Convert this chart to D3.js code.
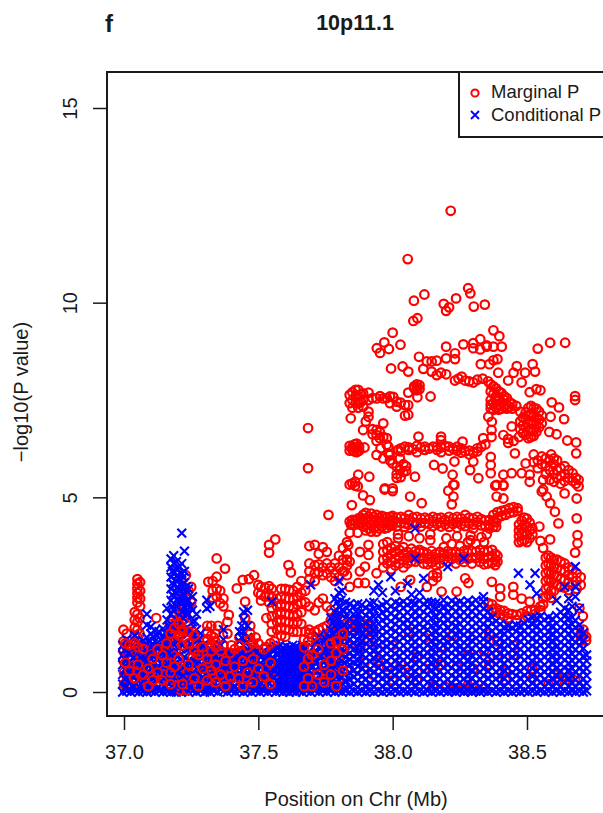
<!DOCTYPE html>
<html>
<head>
<meta charset="utf-8">
<script src="https://cdn.jsdelivr.net/npm/d3@7"></script>
<style>
  html, body { margin: 0; padding: 0; background: #fff; overflow: hidden; }
  text { font-family: "Liberation Sans", Arial, sans-serif; fill: #1a1a1a; }
</style>
</head>
<body>
<svg id="chart" width="603" height="813"></svg>
<script>
// every row is [position in Mb, -log10P, -log10P, ...]
var marginalSparse = [
  [37.685,6.78,5.75],[37.761,4.55],[37.848,4.8],[38.216,12.36],[38.056,11.12],[38.118,10.21],[38.079,10.05],
  [38.236,10.11],[38.281,10.37],[38.289,10.24],[38.19,9.97],[38.21,9.88],[38.199,9.79,8.87,8.57],[38.302,9.9],
  [38.343,9.95],[38.092,9.6],[38.077,9.53],[38.375,9.29,8.87,8.52],[38,9.23],[37.969,8.98],[37.941,8.83],
  [37.953,8.71],[37.986,8.81],[38.029,8.92],[38.397,9.14],[38.326,9.06,8.8],[38.3,8.96,8.83],[38.263,8.93],
  [38.586,8.97],[38.642,8.97],[38.54,8.82],[38.406,8.87],[38.35,8.87,8.9],[37.994,8.31],[38.037,8.36],[38.058,8.23],
  [38.098,8.61],[38.114,8.3],[38.127,8.49],[38.145,8.49,8.23],[38.164,8.51,8.14],[38.18,8.2],[38.199,8.16],
  [38.232,8.7,8.55],[38.328,8.42],[38.36,8.42],[38.39,8.55],[38.393,8.2],[38.462,8.37],[38.521,8.42],[38.45,8.2],
  [38.493,8.2],[38.53,8.23],[38.43,8.0],[38.48,7.95],[38.51,7.7],[38.535,7.78],[38.55,7.75],[38.592,7.44],[38.619,7.31],
  [38.588,7.07],[38.638,7.01],[38.583,6.68],[38.61,6.62],[38.65,6.46],[38.683,6.41,6.13],[38.679,7.6,7.5],[38.455,6.13],
  [37.844,7.03],[38.058,7.69],[38.092,7.57],[38.141,7.59],[38.096,6.56],[38.18,6.56,6.47],[38.26,6.43],[38.337,6.52],
  [38.368,6.73,6.55],[38.412,6.6],[38.443,6.82],[38.356,7.07],[38.369,6.94],[38.154,5.83],[38.186,5.74],[38.223,5.58],
  [38.23,5.32,5.92],[38.288,5.7],[38.319,5.49],[38.3,5.92],[38.365,6.04,5.83,5.62],[38.382,5.3],[38.412,5.3,5.58],
  [38.443,5.62],[38.48,5.62],[38.495,5.87],[38.51,5.58,5.4],[37.971,5.23],[38,5.23],[37.913,5.53],[37.872,5.58],
  [37.97,5.2],[38,5.16],[38.065,5.02],[38.108,4.85],[38.207,5.17],[38.226,5.32,5.02],[38.22,4.82],[38.387,5.32,5.02],
  [38.412,5.32,4.97],[38.555,5.15],[38.573,5.02],[38.586,4.85],[38.64,5.1],[38.685,4.97,4.46],[38.604,4.63],[38.617,4.33],
  [38.688,4.03,3.82],[38.679,3.58],[38.546,4.25],[38.586,3.92],[38.55,3.88],[38.56,3.7],[37.89,5.05],[37.915,4.93]
];
var marginalUpperBlobs = [
  [37.84,7.63,7.42],[37.85,7.7,7.5,7.3],[37.862,7.76,7.6,7.42],[37.872,7.76,7.59,7.42,7.3],[37.882,7.65,7.45],[37.89,7.67,7.5,7.33],
  [37.91,7.69,7.5,7.2,7.07],[37.925,7.55],[37.94,7.54],[37.953,7.6],[37.965,7.54],[37.978,7.55],[37.99,7.59,7.42],[38.002,7.58],
  [38.015,7.46,7.33],[38.03,7.43],[38.046,7.37,7.1],[38.058,7.37,7.12],
  [38.08,7.8,7.85],[38.09,7.9,7.83,7.75],[38.1,7.88,7.78],
  [37.89,6.73],[37.9,6.95],[37.925,6.75,6.62],[37.94,6.73,6.6,6.45],[37.952,6.68,6.52],[37.965,6.9,6.55],[37.978,6.52,6.35],
  [37.984,6.3,6.12],[37.99,6.09,5.95],[37.965,6.0],[38.0,5.87],[38.015,5.78,5.6,5.5],[38.027,6.0,5.7],[38.04,5.85,5.65],[38.05,5.8,5.68],[38.083,5.53],[38.03,5.52],
  [37.84,6.32,6.2],[37.85,6.3,6.22],[37.858,6.36,6.28,6.18],[37.866,6.38,6.27,6.16],[37.875,6.3,6.2],[37.895,6.28],[37.94,6.09],[37.955,6.26],[38.02,6.22],
  [38.03,6.26,6.18],[38.045,6.3],[38.06,6.22,6.28],[38.075,6.24],[38.09,6.32,6.16],[38.105,6.28],[38.12,6.3,6.22],[38.135,6.25],[38.15,6.3],[38.165,6.22,6.3],
  [38.18,6.28,6.16],[38.195,6.32],[38.21,6.2,6.3],[38.225,6.25],[38.24,6.3,6.2],[38.255,6.15,6.26],[38.27,6.18],[38.285,6.1,6.2],[38.3,6.15],[38.315,6.18,6.26],
  [38.33,6.3],[38.345,6.36],
  [38.232,8.0],[38.245,8.05],[38.257,8.1],[38.27,8.0],[38.285,7.98],[38.3,7.95],[38.315,8.02],[38.335,8.05],[38.355,7.98],
  [38.365,7.9,7.72,7.5,7.38,7.28],[38.375,7.85,7.65,7.42,7.25],[38.385,7.8,7.6,7.48,7.3],[38.395,7.72,7.55,7.38,7.25],[38.405,7.68,7.45,7.28],
  [38.415,7.6,7.5,7.32],[38.425,7.55,7.38,7.28],[38.435,7.45,7.32],[38.445,7.4,7.28],[38.46,7.35],
  [38.475,7.2,6.95,6.75],[38.485,7.05,6.85,6.65],[38.495,7.18,7.0,6.8,6.6],[38.505,7.3,7.1,6.9,6.7,6.52],[38.515,7.35,7.15,6.95,6.75,6.55],
  [38.525,7.3,7.1,6.92,6.72,6.58],[38.535,7.28,7.05,6.88,6.68],[38.545,7.2,7.0,6.8],[38.555,7.1,6.9],[38.47,6.55],[38.45,6.45],[38.43,6.4,6.5],
  [38.525,6.1,5.9],[38.54,5.95,5.75],[38.555,6.05,5.85],[38.57,6.0,5.8,5.6],[38.585,5.95,5.7,5.45],[38.6,5.85,5.6,5.4],[38.612,5.95,5.7,5.5],
  [38.625,5.75,5.55,5.35],[38.64,5.8,5.6,5.42],[38.655,5.7,5.5],[38.67,5.62,5.42],[38.682,5.5,5.35],[38.692,5.45,5.28],
  [38.6,6.0],[38.59,6.1],[38.56,5.45,5.2]
];
var marginalMiddleBands = [
  [37.84,4.38,5.33],[37.85,4.42,4.33,5.36],[37.86,4.4,5.3,5.4],[37.87,4.45,4.32,5.28],[37.88,4.48,4.35],[37.89,4.55,4.4,4.25],[37.9,4.6,4.45,4.3,4.15],
  [37.91,4.5,4.35,4.2],[37.92,4.58,4.42,4.28,4.12],[37.93,4.5,4.38,4.22],[37.94,4.55,4.4,4.25,4.12],[37.95,4.47,4.33,4.2],[37.96,4.52,4.38,4.25],
  [37.97,4.5,4.35,4.2],[37.98,4.48,4.33,4.22],[37.99,4.5,4.38,4.27],[38.0,4.52,4.4,4.28],[38.015,4.48,4.36,4.25],[38.03,4.5,4.35],[38.045,4.46,4.33,4.24],
  [38.06,4.55,4.42,4.3],[38.075,4.48,4.36],[38.09,4.5,4.32],[38.105,4.45,4.35,4.25],[38.12,4.48,4.34],[38.135,4.44,4.32],[38.15,4.5,4.38,4.26],[38.165,4.46,4.32],
  [38.18,4.48,4.36,4.25],[38.195,4.42,4.3],[38.21,4.5,4.38,4.24],[38.225,4.46,4.32],[38.24,4.5,4.36,4.22],[38.255,4.46,4.3],[38.27,4.55,4.38,4.26],
  [38.285,4.48,4.33],[38.3,4.45,4.3,4.2],[38.315,4.5,4.36],[38.33,4.44,4.28],[38.345,4.4,4.26],[38.36,4.42,4.3,4.2],[38.375,4.38,4.25],[38.385,4.36,4.24],
  [38.375,4.55],[38.39,4.62,4.48],[38.405,4.65,4.52],[38.42,4.68,4.55],[38.435,4.72,4.6],[38.45,4.75,4.62],[38.465,4.72,4.65],
  [38.47,4.3,4.15,4.0,3.85],[38.48,4.4,4.2,4.05,3.88],[38.49,4.48,4.3,4.1,3.9],[38.5,4.45,4.25,4.05,3.85],[38.51,4.35,4.15,3.95],[38.52,4.2,4.05],
  [37.84,4.09],[37.87,4.09],[37.835,3.78],[37.878,3.6],[37.91,3.78],[37.91,3.52],[37.83,3.4,3.25,3.55],[37.82,3.1],[37.878,3.1],[37.897,3.22],
  [37.872,2.8],[37.897,2.8],[37.94,3.05],[38.03,2.7],[38.065,2.88],[38.127,2.7],[38.15,3.0,2.85],[38.165,2.95,3.05],[38.182,2.58],[38.238,2.58],
  [38.27,2.92],[38.282,2.8],[38.369,2.83],[38.4,2.66,2.45],[38.449,2.7,2.5],[38.48,2.4],[38.51,2.32],
  [37.965,3.8,3.6,3.4,3.2],[37.98,3.85,3.65,3.45,3.3],[37.995,3.7,3.55,3.35,3.15],[38.01,3.75,3.6,3.42,3.25],[38.025,3.65,3.48,3.3],[38.04,3.72,3.55,3.38,3.2],
  [38.055,3.6,3.45,3.3],[38.07,3.68,3.52,3.36],[38.085,3.62,3.48,3.35],[38.1,3.58,3.42,3.65],[38.115,3.6,3.45,3.3],[38.13,3.55,3.42,3.28],[38.145,3.62,3.48,3.33],
  [38.16,3.55,3.4,3.25],[38.175,3.6,3.45,3.3],[38.19,3.56,3.4,3.72],[38.205,3.62,3.48,3.34],[38.22,3.56,3.42,3.8],[38.235,3.6,3.46,3.3],[38.25,3.55,3.4,3.75],
  [38.265,3.62,3.48,3.34],[38.28,3.58,3.42,3.85],[38.295,3.62,3.46,3.3],[38.31,3.6,3.44,3.8],[38.325,3.65,3.5,3.34],[38.34,3.6,3.42,3.28,3.85],[38.355,3.62,3.46,3.3],
  [38.37,3.65,3.5,3.32],[38.382,3.55,3.4,3.26],[38.39,3.5,3.35],[38.02,3.95,4.05],[38.06,4.0],[38.1,3.95],[38.14,4.05,3.9],[38.2,3.95],[38.24,4.0],[38.29,3.9,4.02],[38.33,3.98],[38.35,4.05],
  [38.356,2.28],[38.37,2.25,2.12],[38.385,2.15,2.05],[38.4,2.1,2.0],[38.415,2.08,1.95],[38.43,2.02,1.9],[38.445,2.0],[38.462,1.98,1.85],[38.48,2.02],
  [38.5,2.08,1.95],[38.515,2.1],[38.53,2.1,2.0],[38.55,2.2,2.1],[38.56,2.42,2.25],[38.57,3.45,3.25,3.05,2.85,2.65,2.45],[38.58,3.5,3.3,3.1,2.9,2.7,2.5],
  [38.59,3.45,3.25,3.05,2.85,2.6,2.42],[38.6,3.4,3.2,3.0,2.8,2.6],[38.612,3.4,3.18,2.98,2.75],[38.625,3.35,3.12,2.9,2.7],[38.64,3.3,3.1,2.88,2.68],
  [38.655,3.2,3.0,2.82,2.62],[38.67,3.15,2.95,2.75],[38.685,3.05,2.85,2.65],[38.7,2.95,2.75],[38.695,2.15],[38.708,1.95],[38.71,1.6,1.45],[38.72,1.42,1.32],[38.7,1.5,1.32]
];
var marginalLowLeft = [
  [36.998,1.6,1.3,1.05,.8],[37.01,1.5,1.15,.7],[37.05,2.9,2.78,2.66,2.54,2.42,2.3],[37.06,2.82,2.6,2.4,2.2],[37.04,2.05,1.85,1.65,1.45],[37.05,2,1.8,1.6,1.4,1.2],
  [37.058,1.9,1.5],[37.09,1.2,.9],[37.1,1.28,.95],[37.06,.8,.4],[37.12,1.9],[37.15,1.2,.8,.5],[37.16,1.4,.95],[37.17,1.75,1.35,.95],[37.18,1.85,1.55,1.2],[37.19,2,1.75,1.5,1.2,.85],
  [37.2,2.1,1.85,1.6,1.3],[37.21,2.4,2,1.7,1.45,1.1],[37.22,2.7,2.25,1.85,1.6,.45,.25],[37.23,3,2.65,2.3,1.95,.35,.15],[37.24,2.6,2.2,1.7,.3,.1],[37.25,2.7,2.3],
  [37.345,3.43,2.96],[37.376,3.17],[37.314,2.83],[37.33,2.85,2.6,2.42],[37.345,2.65,2.45],[37.358,2.6,2.28],[37.37,2.4,2.2],[37.31,1.7,1.55,1.35,1.15],[37.325,1.7,1.45,1.25],
  [37.34,1.5,1.3],[37.35,1.7],[37.39,1.98],[37.385,1.8,1.5],[37.42,2.66],[37.442,2.88],[37.465,2.9],[37.484,3],[37.451,2.32,1.9],[37.47,1.7,1.5],[37.43,1.4],
  [37.5,2.75,2.55],[37.51,2.7,2.5,2.35],[37.525,2.68,2.45],[37.54,2.72,2.5,2.3],[37.55,2.65,2.42],[37.563,3.92],[37.54,3.78,3.58],[37.612,3.26],[37.621,3.07],[37.53,1.9],
  [37.55,2.15,1.95,1.75,1.55],[37.57,2.4,2.2,2,1.8,1.6],[37.585,2.65,2.45,2.25,2.05,1.85,1.65,1.45],[37.6,2.65,2.4,2.2,2,1.8,1.6,1.42],[37.615,2.62,2.4,2.2,2,1.8,1.6],
  [37.63,2.6,2.38,2.15,1.95,1.75,1.55],[37.645,2.7,2.45,2.25,2,1.8,1.55],[37.66,2.85,2.55,2.3,2.05,1.75],[37.675,2.6,2.3,1.55],[37.69,3.75,3.3,3.1,2.9,2.2,1.6],
  [37.71,3.78,3.25,3.05,2.85,2.1,1.55],[37.725,3.55,3.28,3.08,2.3,1.6],[37.74,3.72,3.2,3,2.4,1.65],[37.755,3.6,3.3,3.05,2.2,1.7],[37.77,3.2,2.95,2.1,1.85,1.55],
  [37.785,3.3,3.05,2.85,1.95,1.7,1.5],[37.8,3.5,3.2,2.95,1.7,1.4],[37.815,3.7,3.4,3.1,1.85,1.55],[37.83,3.85,3.55,3,1.6],[37.84,3.35,2.7],[37.845,4.3]
];
var marginalUnderBlue = [
  [37.945,1.1,.8],[37.98,.65],[38.0,1.2,.3],[38.03,.75],[38.06,.5,1.55],[38.09,.9,.3],[38.12,.6,1.4],[38.18,.7,1.15],[38.22,1.45],[38.24,.65],[38.28,.95],[38.3,.6],[38.34,1.05],
  [38.36,.7,1.5],[38.39,.95,1.3],[38.42,.55,.3],[38.45,.95,1.2],[38.52,.6,.35]
];
var conditionalLeft = [
  [36.995,0,.2,.45,.7,.95,1.2],[37.01,.02,.15,.4,.62,.88,1.12,1.35],[37.025,0,.28,.5,.78,1,1.28],[37.04,.03,.2,.42,.68,.92,1.18,1.45],[37.055,0,.3,.55,.8,1.02,1.25],
  [37.07,.01,.18,.47,.72,.95,1.32],[37.085,0,.25,.5,.76,1.05,1.4,1.72,2],[37.1,.02,.3,.6,.85,1.15,1.5,1.68],[37.115,0,.2,.45,.75,1.05,1.3,1.58],[37.13,.03,.33,.62,.9,1.2,1.55],
  [37.145,0,.22,.5,.8,1.1,1.4,1.62],[37.16,.01,.3,.58,.86,1.15,1.5,1.85,2.15],[37.175,0,.25,.55,.82,1.1,1.45,2.0,2.35,2.65,2.95,3.2,3.42],[37.185,.02,.3,.7,1,2.1,2.45,2.75,3.05,3.3,3.5],
  [37.195,0,.4,.75,1.05,2.2,2.55,2.85,3.15,3.35],[37.205,.02,.3,.6,1.15,2.3,2.6,2.9,3.2],[37.215,0,.25,.65,2.05,2.4,2.75,3.05,3.3,4.08],[37.225,.03,.55,.9,2.2,2.5,2.8,3.1,3.62],
  [37.24,0,.5,.8,1.1,1.5,2,2.35,2.65],[37.255,.02,.35,.7,1.05,1.45,1.8,2.1,2.45],[37.27,0,.28,.6,.95,1.3,1.6,2],[37.285,.03,.3,.62,.9,1.18,1.5],[37.3,0,.25,.55,.8,1.05],
  [37.308,.02,.4,2.36,2.15],[37.32,0,.3,.6,.85,1.1,2.2],[37.335,.03,.26,.55,.8,1.05],[37.35,0,.3,.58,.82,1.1],[37.37,.02,.25,.5,.78,1.05,1.35,1.6],[37.385,0,.3,.55,.8,1.02],
  [37.4,.03,.22,.48,.75,.98],[37.415,0,.3,.55,.8,1],[37.43,.02,.25,.5,.76,1,1.3,1.55],[37.445,0,.3,.58,.85,1.2,1.55,1.85,2.06],[37.46,.02,.25,.5,.8,1.1,1.4,1.7,2.1],[37.475,0,.3,.55,.82,1.15],
  [37.49,.03,.25,.5,.78,1.02],[37.505,0,.2,.45,.7,.95,1.15],[37.52,.02,.28,.55,.82,1.05],[37.535,0,.24,.5,.75,1],[37.55,.03,.3,.55,.82,1.1,2.32],[37.565,0,.22,.48,.72,.98,1.18],
  [37.58,.02,.2,.38,.55,.72,.88,1.05,1.2],[37.592,0,.16,.32,.5,.66,.82,.98,1.14],[37.604,.02,.18,.36,.52,.68,.85,1,1.18],[37.616,0,.15,.33,.5,.65,.8,.96,1.12],[37.628,.02,.2,.38,.55,.7,.86,1.02,1.2],
  [37.64,0,.16,.34,.5,.68,.84,1,1.16],[37.652,.03,.2,.38,.54,.7,.88,1.04],[37.664,0,.18,.35,.52,.7,.85,1.02,1.2],[37.68,.02,.2,.4,.6,.8],[37.695,0,.22,.45,.68,.92,2.75],[37.71,.03,.3,.52,.76,1,1.3],
  [37.725,0,.2,.42,.66,.9,1.15,1.42],[37.74,.02,.3,.55,.8,1.05,1.35],[37.755,0,.22,.45,.7,.96,1.2,1.5],[37.77,.03,.26,.5,.75,1,1.25,1.6,1.9],[37.785,0,.2,.46,.72,1.02,1.35,1.7,2.05,2.4],
  [37.8,.02,.3,.55,.85,1.15,1.5,1.85,2.2,2.55,2.85],[37.812,0,.22,.5,.8,1.1,1.45,1.8,2.1,2.6],[37.825,.03,.3,.6,.9,1.2,1.55,1.9,2.3]
];
var conditionalLeftExtra = [
  [37.003,.1,.33,.58,.84,1.08],[37.018,.08,.3,.52,.76,1,1.22],[37.033,.12,.38,.62,.88,1.14],[37.048,.06,.3,.55,.8,1.08],[37.063,.1,.35,.62,.88,1.12],
  [37.078,.08,.32,.6,.86,1.2],[37.093,.12,.4,.68,.98,1.28],[37.108,.05,.35,.62,.92,1.22,1.42],[37.123,.1,.32,.6,.86,1.16,1.44],[37.138,.07,.42,.72,1.02,1.35],
  [37.153,.12,.38,.68,.96,1.26,1.52],[37.168,.06,.4,.7,1,1.3,1.7],[37.18,.12,.42,.68,1.25,1.7,2.2,2.5,2.8,3.1],[37.2,.15,.5,.9,1.3,1.7,2.4,2.7,3],[37.22,.1,.42,.8,1.2,1.9,2.3,2.65,2.95],
  [37.232,.2,.7,1.1,1.5,2,2.35,2.7],[37.248,.12,.42,.75,1.25,1.6,2.2],[37.263,.08,.42,.78,1.12,1.45,1.82],[37.278,.14,.45,.78,1.05,1.35],[37.293,.08,.38,.68,.95,1.2],
  [37.313,.14,.42,.72,.98],[37.328,.08,.4,.68,.95],[37.343,.14,.42,.7,.92],[37.36,.08,.4,.65,.92,1.2],[37.377,.14,.38,.65,.92],[37.392,.08,.42,.68,.9],[37.408,.14,.36,.62,.88],
  [37.423,.08,.4,.66,.9],[37.438,.14,.42,.7,1,1.4,1.7],[37.453,.08,.38,.66,.95,1.25],[37.468,.14,.4,.68,.98],[37.483,.08,.38,.65,.92],[37.498,.12,.32,.58,.82,1.05],
  [37.513,.08,.4,.68,.92],[37.528,.12,.36,.62,.88],[37.543,.08,.42,.68,.95],[37.558,.12,.36,.6,.85,1.08],[37.572,.08,.3,.46,.62,.8,.96,1.12],[37.586,.1,.25,.42,.58,.74,.9,1.08],
  [37.598,.08,.24,.42,.6,.76,.92,1.08],[37.61,.1,.26,.42,.58,.74,.9,1.06],[37.622,.08,.28,.46,.62,.78,.94,1.12],[37.634,.1,.26,.42,.6,.76,.92,1.08],[37.646,.08,.24,.44,.6,.78,.94,1.1],
  [37.658,.1,.28,.46,.62,.8,.96,1.12],[37.672,.08,.3,.5,.7,.9,1.1],[37.688,.12,.34,.56,.8,1.02],[37.703,.08,.4,.64,.88,1.14],[37.718,.12,.32,.54,.78,1.02,1.28],[37.733,.08,.42,.68,.92,1.2],
  [37.748,.12,.34,.58,.82,1.08,1.38],[37.763,.08,.38,.62,.88,1.12,1.42],[37.778,.14,.34,.6,.88,1.15,1.48,1.78],[37.793,.08,.42,.7,1,1.3,1.62,1.98,2.3],[37.807,.14,.38,.68,.98,1.3,1.65,2,2.35],[37.82,.08,.45,.75,1.05,1.38,1.72,2.08]
];
var conditionalRight = [
  [37.84,0,.14,.33,.5,.7,.84,1,1.18,1.36,1.52,1.7,1.88,2.08,2.26],[37.855,.02,.2,.38,.55,.76,.92,1.1,1.26,1.44,1.6,1.8,2.0,2.2],
  [37.87,0,.12,.3,.47,.66,.8,.98,1.13,1.32,1.5,1.66,1.84,2.02,2.26],[37.885,.03,.22,.4,.6,.78,.96,1.14,1.3,1.48,1.68,1.86,2.06,2.24],
  [37.9,0,.16,.34,.52,.7,.88,1.06,1.24,1.42,1.6,1.76,1.96,2.16],[37.915,.02,.2,.42,.58,.8,.98,1.16,1.34,1.52,1.7,1.9,2.1,2.28],
  [37.93,0,.14,.32,.5,.68,.86,1.04,1.22,1.4,1.56,1.74,1.94,2.14,2.3,2.6],[37.947,.03,.24,.42,.62,.82,1,1.2,1.38,1.56,1.76,1.96,2.18,2.75],
  [37.962,0,.16,.36,.54,.72,.9,1.1,1.28,1.46,1.64,1.84,2.04,2.24,2.55],[37.978,.02,.22,.4,.6,.78,.98,1.16,1.34,1.54,1.72,1.9,2.1,2.3],
  [37.993,0,.14,.34,.52,.7,.9,1.08,1.26,1.44,1.62,1.82,2.02,2.2,2.96],[38.01,.03,.22,.42,.6,.8,.98,1.18,1.36,1.56,1.74,1.92,2.12,2.3,2.6],
  [38.025,0,.16,.36,.56,.74,.92,1.1,1.3,1.48,1.66,1.86,2.06,2.26],[38.04,.02,.24,.44,.62,.82,1.02,1.2,1.4,1.58,1.78,1.96,2.16,2.32],
  [38.055,0,.14,.32,.52,.72,.9,1.08,1.28,1.46,1.64,1.84,2.04,2.24,2.79],[38.07,.03,.22,.4,.6,.8,1,1.18,1.36,1.56,1.76,1.94,2.14,2.3,2.5],
  [38.083,0,.16,.36,.54,.74,.94,1.12,1.3,1.5,1.68,1.88,2.08,2.28,3.43,4.2],[38.1,.02,.22,.42,.62,.8,.98,1.18,1.38,1.56,1.74,1.94,2.14,2.34,2.55],
  [38.115,0,.14,.34,.54,.72,.92,1.1,1.28,1.48,1.66,1.86,2.06,2.26,2.92],[38.13,.03,.24,.44,.62,.82,1,1.2,1.4,1.6,1.78,1.98,2.18,2.32],
  [38.145,0,.18,.36,.56,.76,.94,1.14,1.32,1.5,1.7,1.9,2.1,2.3],[38.16,.02,.22,.4,.6,.78,.98,1.16,1.36,1.54,1.72,1.92,2.12,2.28],
  [38.175,0,.16,.34,.52,.72,.9,1.1,1.3,1.48,1.68,1.86,2.06,2.26],[38.19,.03,.24,.44,.64,.84,1.02,1.22,1.4,1.58,1.78,1.98,2.2,2.36],
  [38.205,0,.14,.32,.52,.7,.9,1.08,1.26,1.46,1.64,1.84,2.04,2.24,3.22],[38.22,.02,.22,.42,.62,.8,1,1.2,1.38,1.56,1.76,1.96,2.16,2.34],
  [38.235,0,.16,.36,.54,.74,.92,1.12,1.3,1.5,1.7,1.88,2.08,2.28],[38.25,.03,.24,.42,.6,.8,.98,1.16,1.36,1.54,1.74,1.94,2.14,2.32],
  [38.265,0,.14,.34,.54,.72,.92,1.1,1.28,1.48,1.66,1.86,2.06,2.26,3.43],[38.28,.02,.22,.4,.6,.78,.98,1.18,1.36,1.56,1.76,1.94,2.14,2.34],
  [38.295,0,.16,.36,.56,.74,.94,1.12,1.32,1.5,1.68,1.88,2.08,2.28],[38.31,.03,.24,.44,.62,.82,1,1.2,1.38,1.58,1.76,1.96,2.16,2.36],
  [38.325,0,.14,.32,.52,.72,.9,1.1,1.28,1.46,1.66,1.84,2.04,2.24],[38.338,.02,.22,.42,.6,.8,1,1.18,1.36,1.56,1.74,1.94,2.14,2.32,2.45],
  [38.355,0,.16,.36,.54,.74,.92,1.12,1.3,1.5,1.68,1.88,2.06],[38.37,.03,.24,.42,.62,.8,1,1.18,1.38,1.56,1.76,1.92],
  [38.385,0,.14,.34,.52,.72,.9,1.08,1.28,1.46,1.66,1.82],[38.4,.02,.22,.4,.6,.8,.98,1.16,1.36,1.54,1.74],
  [38.415,0,.16,.36,.56,.74,.92,1.12,1.3,1.5,1.66],[38.43,.03,.24,.44,.62,.82,1,1.2,1.38,1.58,1.7],
  [38.445,0,.14,.32,.5,.7,.9,1.08,1.26,1.46,1.64],[38.46,.02,.22,.42,.6,.8,.98,1.16,1.36,1.56,1.72],
  [38.468,3.05],[38.475,0,.16,.36,.54,.72,.92,1.1,1.3,1.5,1.7],[38.49,.03,.24,.42,.62,.82,1,1.2,1.38,1.56,1.76],
  [38.505,0,.14,.34,.52,.72,.9,1.1,1.28,1.48,1.68,1.86],[38.511,2.75],[38.52,.02,.22,.4,.6,.78,.98,1.18,1.36,1.56,1.74,1.9],[38.53,3.05],
  [38.536,0,.16,.36,.54,.74,.92,1.12,1.3,1.5,1.7,1.9,2.53],[38.55,.03,.24,.44,.62,.8,1,1.2,1.38,1.56,1.76,1.94],
  [38.565,0,.14,.32,.52,.7,.9,1.08,1.28,1.46,1.66,1.86],[38.58,.02,.22,.42,.6,.8,.98,1.18,1.36,1.54,1.74,1.92],
  [38.595,0,.16,.36,.54,.74,.94,1.12,1.32,1.5,1.7,1.88],[38.61,.03,.22,.4,.6,.78,.98,1.16,1.36,1.56,1.76,1.96,2.35],
  [38.625,0,.14,.34,.54,.72,.92,1.1,1.28,1.48,1.66,1.86,2.05],[38.64,.02,.24,.42,.62,.82,1,1.2,1.38,1.58,1.76,1.94,2.15,2.7],
  [38.655,0,.16,.36,.56,.74,.92,1.12,1.3,1.5,1.7,1.9,2.1,2.4],[38.668,.03,.22,.4,.6,.8,.98,1.18,1.36,1.56,1.74,1.92,2.2],
  [38.68,0,.14,.32,.52,.72,.9,1.08,1.28,1.46,1.66,1.84,2.45,2.7,3.22],[38.695,.02,.22,.42,.6,.8,1,1.2,1.36,1.56,1.72,2.15],
  [38.71,0,.16,.34,.54,.72,.92,1.12,1.32,1.52],[38.722,.03,.22,.42,.6,.8,.95]
];
var marginalOnTop = [
  [37.0,.5,.2],[37.012,1,.35],[37.03,.9,.45],[37.045,1.05,.25],[37.065,.65,.95],[37.08,.3,.75],[37.1,.55],[37.115,1,.35],[37.135,.75,.2],[37.15,1.05,.4],[37.165,.6],[37.18,.95,.3],
  [37.195,1.1,.15],[37.21,.05,.4],[37.225,.12,.3,.6],[37.235,.05,.2,.5],[37.255,.9,1.25,1.55],[37.27,.55,.85,1.2],[37.285,.2,.75],[37.3,.5,1,1.3],[37.32,.75,.25,1.15],[37.335,.45,1.4],
  [37.35,.9,.2],[37.37,.6,1.2],[37.385,.3,.9],[37.4,.55,1.2],[37.42,.2,.85],[37.435,.6,1.05],[37.45,.35,.95],[37.47,.7,.15,1.35],[37.49,.45,1.1,1.4],[37.51,.25,.8],[37.53,.6,1.15],
  [37.56,.35,1.3],[37.6,.3],[37.63,.2,.45],[37.67,.4,.9,1.35],[37.69,.6,1.1,1.5],[37.71,.25,.85],[37.735,.5,1.3],[37.76,.2,.95,1.45],[37.78,.6,1.15],[37.8,.35,.9],[37.83,.55,1.25,1.75],
  [37.85,1.6,1.75,1.05],[37.865,1.7,1.85,.6],[37.88,1.65,1.8,1.15],[37.895,1.6,1.75,.75],[37.91,1.55,1.7,1.35],[37.925,1.62,.45],
  [38.15,.15],[38.2,.12],[38.22,.05],[38.24,.1],[38.26,.08],[38.28,.05,.18],[38.3,.1],[38.32,.05],[38.34,.1],
  [38.58,.2],[38.6,.45],[38.62,.3],[38.64,.5,.2],[38.66,.4],[38.68,.3]
];
var marginalOnTopExtra = [
  [37.005,.75,1.25],[37.02,.55,1.2],[37.038,.35,1.25],[37.052,.7,1.15],[37.072,.45,1.1],[37.09,.15,.6],[37.107,.85,.3],[37.125,.5,1.1],[37.143,.3,.95],[37.158,.75,1.25],[37.173,.2,.5,1.5],[37.188,.65,1.65],
  [37.203,.85,1.45,1.75],[37.218,.2,1.2,1.55],[37.24,.7,1.25,1.55],[37.262,.35,1.05,1.45],[37.277,.15,.95],[37.292,.6,1.15],[37.31,.3,.85,1.35],[37.325,.55,1.05],[37.342,.25,.7,1.15],[37.36,.45,1.05],
  [37.378,.15,.8],[37.395,.4,1],[37.412,.65,1.1],[37.428,.35,1.2],[37.443,.15,.8],[37.46,.5,1.15],[37.48,.25,.85,1.25],[37.5,.6,1.25],[37.52,.4,1.1],[37.545,.2,.75,1.25],[37.67,.15,.65,1.15],[37.685,.35,.85,1.3],
  [37.7,.15,.95,1.4],[37.722,.45,1.1],[37.745,.25,.7],[37.77,.45,.8,1.25],[37.79,.15,1,1.3],[37.815,.55,1.1,1.5]
];

var xTicks = [37.0, 37.5, 38.0, 38.5],
    yTicks = [0, 5, 10, 15];

var svg = d3.select("#chart"),
    width = +svg.attr("width");

var x = d3.scaleLinear().domain([37, 38.5]).range([124, 527]),
    y = d3.scaleLinear().domain([0, 15]).range([692, 108]);

function flatten(rows) {
    return d3.merge(rows.map(function(r) {
        return r.slice(1).map(function(p) { return [r[0], p]; });
    }));
}

var symbolCircle = 4.3, crossArm = 4.4;
var plot = svg.append("g").attr("filter", "url(#soft)");

svg.append("defs").append("filter").attr("id", "soft")
    .attr("x", "-5%").attr("y", "-5%").attr("width", "110%").attr("height", "110%")
    .append("feGaussianBlur").attr("stdDeviation", 0.5);

function drawCircles(rows) {
    plot.append("g").selectAll("circle")
        .data(flatten(rows))
        .enter().append("circle")
        .attr("cx", function(d) { return x(d[0]); })
        .attr("cy", function(d) { return y(d[1]); })
        .attr("r", symbolCircle)
        .attr("fill", "none")
        .attr("stroke", "#ff0000")
        .attr("stroke-width", 2.2);
}

function drawCrosses(rows) {
    plot.append("g").selectAll("path")
        .data(flatten(rows))
        .enter().append("path")
        .attr("transform", function(d) { return "translate(" + x(d[0]) + "," + y(d[1]) + ")"; })
        .attr("d", "M" + -crossArm + "," + -crossArm + "L" + crossArm + "," + crossArm +
                   "M" + -crossArm + "," + crossArm + "L" + crossArm + "," + -crossArm)
        .attr("fill", "none")
        .attr("stroke", "#0000ff")
        .attr("stroke-width", 2.1);
}

drawCircles(marginalSparse);
drawCircles(marginalUpperBlobs);
drawCircles(marginalMiddleBands);
drawCircles(marginalLowLeft);
drawCircles(marginalUnderBlue);
drawCrosses(conditionalLeft);
drawCircles(marginalOnTop);
drawCrosses(conditionalLeftExtra);
drawCrosses(conditionalRight);
drawCircles(marginalOnTopExtra);

// box runs off the right side of the picture, same as the original crop
svg.append("path")
    .attr("d", "M" + width + ",72H107V716H" + width)
    .attr("fill", "none")
    .attr("stroke", "#1a1a1a")
    .attr("stroke-width", 2);

var xAxis = svg.append("g")
    .attr("transform", "translate(0,716)")
    .call(d3.axisBottom(x).tickValues(xTicks).tickSize(14).tickSizeOuter(0).tickFormat(d3.format(".1f")));
xAxis.select(".domain").remove();
xAxis.selectAll("line").attr("stroke", "#1a1a1a").attr("stroke-width", 1.5);
xAxis.selectAll("text").attr("y", 37).attr("dy", "0.32em").attr("font-size", 20)
    .style("font-family", '"Liberation Sans", Arial, sans-serif');

var yAxis = svg.append("g")
    .attr("transform", "translate(107,0)")
    .call(d3.axisLeft(y).tickValues(yTicks).tickSize(14).tickSizeOuter(0));
yAxis.select(".domain").remove();
yAxis.selectAll("line").attr("stroke", "#1a1a1a").attr("stroke-width", 1.5);
yAxis.selectAll("text")
    .attr("x", 0).attr("dy", 0)
    .attr("text-anchor", "middle")
    .attr("font-size", 20)
    .style("font-family", '"Liberation Sans", Arial, sans-serif')
    .attr("transform", function() {
        return "translate(-30,0) rotate(-90)";
    });

svg.append("text").attr("x", 105).attr("y", 32)
    .attr("font-size", 24).attr("font-weight", "bold").text("f");
svg.append("text").attr("x", 355).attr("y", 30)
    .attr("text-anchor", "middle").attr("font-size", 21.5).attr("font-weight", "bold").text("10p11.1");
svg.append("text").attr("x", 356).attr("y", 806)
    .attr("text-anchor", "middle").attr("font-size", 20).text("Position on Chr (Mb)");
svg.append("text")
    .attr("transform", "translate(28,392) rotate(-90)")
    .attr("text-anchor", "middle").attr("font-size", 20).text("−log10(P value)");

// legend
var legend = svg.append("g");
legend.append("path")
    .attr("d", "M" + width + ",137H459V72")
    .attr("fill", "#fff").attr("stroke", "#1a1a1a").attr("stroke-width", 2);
legend.append("circle").attr("cx", 475).attr("cy", 93).attr("r", 3.6)
    .attr("fill", "none").attr("stroke", "#ff0000").attr("stroke-width", 2);
legend.append("path")
    .attr("transform", "translate(475,115)")
    .attr("d", "M-4,-4L4,4M-4,4L4,-4")
    .attr("fill", "none").attr("stroke", "#0000ff").attr("stroke-width", 1.8);
legend.append("text").attr("x", 491).attr("y", 98).attr("font-size", 18.5).text("Marginal P");
legend.append("text").attr("x", 491).attr("y", 121).attr("font-size", 18.5).text("Conditional P");
</script>
</body>
</html>
